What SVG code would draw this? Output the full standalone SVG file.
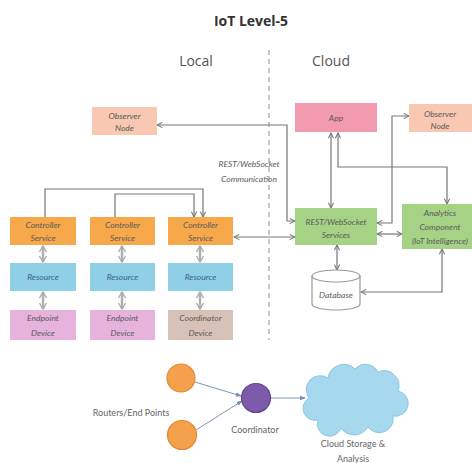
<svg xmlns="http://www.w3.org/2000/svg" width="472" height="463" viewBox="0 0 472 463">
<defs>
<marker id="ah" viewBox="0 0 8 8" refX="7" refY="4" markerWidth="7" markerHeight="7" markerUnits="userSpaceOnUse" orient="auto-start-reverse">
<path d="M1,1 L7,4 L1,7" fill="none" stroke="#777" stroke-width="1.2"/>
</marker>
<marker id="bh" viewBox="0 0 8 8" refX="7" refY="4" markerWidth="6" markerHeight="6" markerUnits="userSpaceOnUse" orient="auto">
<path d="M0,1 L8,4 L0,7 Z" fill="#6f8fae"/>
</marker>
<marker id="dh" viewBox="0 0 8 8" refX="7" refY="4" markerWidth="8" markerHeight="8" markerUnits="userSpaceOnUse" orient="auto-start-reverse">
<path d="M1,0.5 L7,4 L1,7.5" fill="none" stroke="#aaa" stroke-width="1.3"/>
</marker>
</defs>
<style>
.t{font-family:Lato,"Open Sans","Liberation Sans",sans-serif;font-style:italic;font-size:8.5px;fill:#5a5a5a;text-anchor:middle}
.res{fill:#3d5d8c}
.h{font-family:"Open Sans","Liberation Sans",sans-serif;fill:#555;text-anchor:middle}
.c{fill:none;stroke:#777;stroke-width:1.2;marker-start:url(#ah);marker-end:url(#ah)}
.c1{fill:none;stroke:#777;stroke-width:1.2;marker-end:url(#ah)}
.d{fill:none;stroke:#b0b0b0;stroke-width:2.5;marker-start:url(#dh);marker-end:url(#dh)}
.b{fill:none;stroke:#7d98b3;stroke-width:1;marker-end:url(#bh)}
.l{font-family:Lato,"Open Sans","Liberation Sans",sans-serif;font-size:9px;fill:#666;text-anchor:middle}
</style>
<rect width="472" height="463" fill="#fff"/>
<text class="h" x="251" y="26" font-size="14" font-weight="bold" style="fill:#333">IoT Level-5</text>
<text class="h" x="196" y="66" font-size="14">Local</text>
<text class="h" x="331" y="66" font-size="14">Cloud</text>
<line x1="269" y1="50" x2="269" y2="340" stroke="#aaa" stroke-width="1.3" stroke-dasharray="5,4"/>
<text class="t" x="249" y="167">REST/WebSocket</text>
<text class="t" x="249" y="182">Communication</text>
<g id="connectors">
<path class="c" d="M295,221 H287 V125 H157"/>
<path class="c" d="M377,223 H392 V116 H409"/>
<path class="c" d="M331,133 V208"/>
<path class="c" d="M338,133 V167 H447 V204"/>
<path class="c" d="M377,234 H402"/>
<path class="c" d="M234,237 H295"/>
<path class="c" d="M337,245 V270"/>
<path class="c" d="M442,249 V292 H361"/>
<path class="c1" d="M45,217 V189 H203 V217"/>
<path class="c1" d="M115,217 V194 H194 V217"/>
<path class="d" d="M43,246 V262"/>
<path class="d" d="M122,246 V262"/>
<path class="d" d="M200,246 V262"/>
<path class="d" d="M43,292 V309"/>
<path class="d" d="M122,292 V309"/>
<path class="d" d="M200,292 V309"/>
<path class="b" d="M195,382 L241,396"/>
<path class="b" d="M196,430 L242,401"/>
<path class="b" d="M271,398 L305,398"/>
</g>
<g id="observer-local"><rect x="92" y="107" width="65" height="28" fill="#f9c8b2"/><text class="t" x="124.5" y="119">Observer</text><text class="t" x="124.5" y="131">Node</text></g>
<g id="app"><rect x="295" y="103" width="82" height="29" fill="#f29bae"/><text class="t" x="336" y="121">App</text></g>
<g id="observer-cloud"><rect x="409" y="104" width="63" height="28" fill="#f9c8b2"/><text class="t" x="440" y="117">Observer</text><text class="t" x="440" y="129">Node</text></g>
<g id="rest-services"><rect x="295" y="208" width="82" height="37" fill="#a6d286"/><text class="t" x="336" y="225">REST/WebSocket</text><text class="t" x="336" y="238">Services</text></g>
<g id="analytics"><rect x="402" y="204" width="70" height="45" fill="#a6d286"/><text class="t" x="440" y="216">Analytics</text><text class="t" x="440" y="230">Component</text><text class="t" x="440" y="244">(IoT Intelligence)</text></g>
<g id="database"><path d="M312,276 A24,6 0 0,1 360,276 V304 A24,6 0 0,1 312,304 Z" fill="#fff" stroke="#999" stroke-width="1.2"/><path d="M312,276 A24,6 0 0,0 360,276" fill="none" stroke="#999" stroke-width="1.2"/><text class="t" x="336" y="298">Database</text></g>
<g id="controller-1"><rect x="10" y="217" width="66" height="28" fill="#f7a84a"/><text class="t" x="43" y="228">Controller</text><text class="t" x="43" y="241">Service</text></g>
<g id="controller-2"><rect x="90" y="217" width="65" height="28" fill="#f7a84a"/><text class="t" x="122.5" y="228">Controller</text><text class="t" x="122.5" y="241">Service</text></g>
<g id="controller-3"><rect x="168" y="217" width="65" height="28" fill="#f7a84a"/><text class="t" x="200.5" y="228">Controller</text><text class="t" x="200.5" y="241">Service</text></g>
<g id="resource-1"><rect x="10" y="263" width="66" height="28" fill="#8fd0e6"/><text class="t res" x="43" y="280">Resource</text></g>
<g id="resource-2"><rect x="90" y="263" width="65" height="28" fill="#8fd0e6"/><text class="t res" x="122.5" y="280">Resource</text></g>
<g id="resource-3"><rect x="168" y="263" width="65" height="28" fill="#8fd0e6"/><text class="t res" x="200.5" y="280">Resource</text></g>
<g id="endpoint-1"><rect x="10" y="310" width="66" height="30" fill="#e5b3dc"/><text class="t" x="43" y="321">Endpoint</text><text class="t" x="43" y="336">Device</text></g>
<g id="endpoint-2"><rect x="90" y="310" width="65" height="30" fill="#e5b3dc"/><text class="t" x="122.5" y="321">Endpoint</text><text class="t" x="122.5" y="336">Device</text></g>
<g id="coordinator-device"><rect x="168" y="310" width="65" height="30" fill="#d8c2b7"/><text class="t" x="200.5" y="321">Coordinator</text><text class="t" x="200.5" y="336">Device</text></g>
<g id="router-1"><circle cx="181" cy="378" r="14" fill="#f5a04a" stroke="#e08a35" stroke-width="1.2"/></g>
<g id="router-2"><circle cx="182" cy="435" r="14.5" fill="#f5a04a" stroke="#e08a35" stroke-width="1.2"/></g>
<g id="coordinator"><circle cx="256" cy="398" r="14.5" fill="#7d5aac" stroke="#5f4590" stroke-width="1.2"/><text class="l" x="255" y="433">Coordinator</text></g>
<g id="cloud"><path d="M318,420 A12,12 0 0,1 309,398 A14,14 0 0,1 328,378 A16,16 0 0,1 355,369 A14,14 0 0,1 378,372 A15,15 0 0,1 398,391 A12,12 0 0,1 393,416 A14,14 0 0,1 368,427 A16,16 0 0,1 341,428 A12,12 0 0,1 318,420 Z" fill="#a6d8ee" stroke="#8cc7e0" stroke-width="1"/><text class="l" x="353" y="447">Cloud Storage &amp;</text><text class="l" x="353" y="462">Analysis</text></g>
<text class="l" x="131" y="416">Routers/End Points</text>
</svg>
